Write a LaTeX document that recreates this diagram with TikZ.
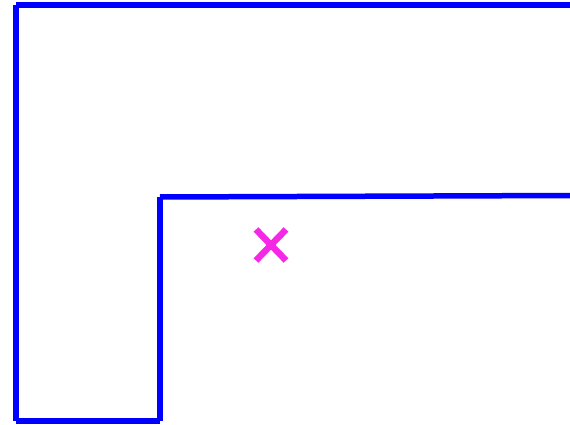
\documentclass[tikz,border=0pt]{standalone}
\usepackage{graphicx, color, xcolor}
\usepackage{tikz}
\definecolor{wallblue}{RGB}{0,0,255}
\definecolor{markpink}{RGB}{245,40,230}
\tikzset{wall/.style={wallblue, line width=5.5pt}}
\tikzset{cross/.style={markpink, line width=6.5pt}}

\begin{document}
\begin{tikzpicture}[x=1pt, y=-1pt]
  \useasboundingbox (0,0) rectangle (570,425);
  \draw [wall] (16,5) -- (570,5);
  \draw [wall] (16,5) -- (16,421);
  \draw [wall] (16,421) -- (160,421);
  \draw [wall] (160,421) -- (160,197);
  \draw [wall] (160,197) -- (570,195.5);
  \draw [cross] (256,229.5) -- (286,260.5);
  \draw [cross] (286,229.5) -- (256,260.5);
\end{tikzpicture}
\end{document}
